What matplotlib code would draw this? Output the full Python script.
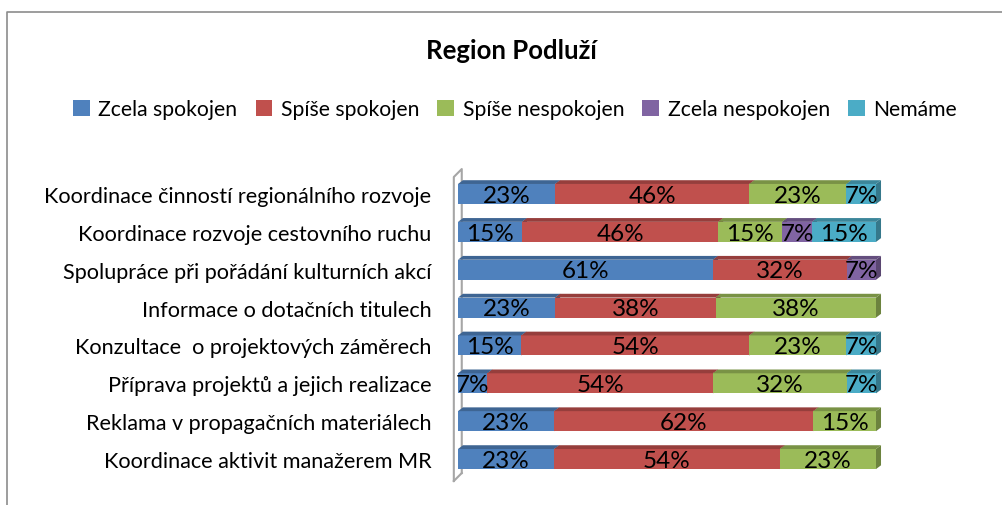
import numpy as np
import matplotlib
matplotlib.use("Agg")
import matplotlib.pyplot as plt
from matplotlib.patches import Polygon, Patch
from matplotlib.lines import Line2D

plt.rcParams['font.family'] = ['Lato', 'DejaVu Sans']

# ---------------- data ----------------
categories = [
    "Koordinace činností regionálního rozvoje",
    "Koordinace rozvoje cestovního ruchu",
    "Spolupráce při pořádání kulturních akcí",
    "Informace o dotačních titulech",
    "Konzultace  o projektových záměrech",
    "Příprava projektů a jejich realizace",
    "Reklama v propagačních materiálech",
    "Koordinace aktivit manažerem MR",
]
series_names = ["Zcela spokojen", "Spíše spokojen", "Spíše nespokojen",
                "Zcela nespokojen", "Nemáme"]
zcela_spokojen = [23, 15, 61, 23, 15, 7, 23, 23]
spise_spokojen = [46, 46, 32, 38, 54, 54, 62, 54]
spise_nespokojen = [23, 15, 0, 38, 23, 32, 15, 23]
zcela_nespokojen = [0, 7, 7, 0, 0, 0, 0, 0]
nemame = [7, 15, 0, 0, 7, 7, 0, 0]

colors = ["#4F81BD", "#C0504D", "#9BBB59", "#8064A2", "#4BACC6"]

# ---------------- figure ----------------
fig = plt.figure(figsize=(10.03, 5.06), dpi=100)

# chart area border (only left + top visible)
fig.add_artist(Line2D([7 / 1003, 7 / 1003, 1.0], [0, 1 - 13 / 506, 1 - 13 / 506],
                      transform=fig.transFigure, color="#8c8c8c", lw=1.2))

fig.text(511 / 1003, 1 - 51 / 506, "Region Podluží", ha="center", va="center",
         fontsize=18.5, fontweight="bold")

ax = fig.add_axes([458 / 1003, 0.0534, 418 / 1003, 0.5986])

data = np.array([zcela_spokojen, spise_spokojen, spise_nespokojen,
                 zcela_nespokojen, nemame], dtype=float)
labels = data.copy()
# 100% stacked
data = data / data.sum(axis=0) * 100

y = np.arange(len(categories))
h = 0.53
dx = 1.2
dy = 0.1


def darker(c, f):
    rgb = np.array(matplotlib.colors.to_rgb(c))
    return tuple(rgb * f)


# wall
wall_c = "#a6a6a6"
ax.plot([-1.0, -1.0, 0.9, 0.9], [7.58, -0.45, -0.66, 7.37], color=wall_c, lw=1.5, clip_on=False, zorder=0)
ax.plot([-1.0, 0.9], [7.58, 7.37], color=wall_c, lw=1.5, clip_on=False, zorder=0)

left = np.zeros(len(categories))
for s in range(len(series_names)):
    w = data[s]
    ax.barh(y, w, left=left, height=h, color=colors[s], edgecolor="none", zorder=2)
    for i in range(len(categories)):
        if w[i] <= 0:
            continue
        l = left[i]
        r = l + w[i]
        top = y[i] - h / 2
        bot = y[i] + h / 2
        ax.add_patch(Polygon([(l, top), (l + dx, top - dy), (r + dx, top - dy), (r, top)],
                             closed=True, facecolor=darker(colors[s], 0.78),
                             edgecolor="none", zorder=2, clip_on=False))
        ax.add_patch(Polygon([(r, top), (r + dx, top - dy), (r + dx, bot - dy), (r, bot)],
                             closed=True, facecolor=darker(colors[s], 0.7),
                             edgecolor="none", zorder=1.9, clip_on=False))
        ax.text(l + w[i] / 2, y[i] + 0.03, "%d%%" % labels[s][i], ha="center", va="center",
                fontsize=17.5, color="black", zorder=5, clip_on=False)
    left = left + w

ax.set_xlim(0, 100)
ax.set_ylim(len(categories) - 0.5, -0.5)
ax.set_yticks(y)
ax.set_yticklabels(categories, fontsize=15.6)
ax.tick_params(axis="y", length=0, pad=19)
ax.set_xticks([])
for sp in ax.spines.values():
    sp.set_visible(False)
ax.patch.set_visible(False)

handles = [Patch(facecolor=c, edgecolor="none") for c in colors]
fig.legend(handles, series_names, loc="center", bbox_to_anchor=(515 / 1003, 1 - 110 / 506),
           ncol=5, frameon=False, fontsize=15.2, handlelength=0.8, handleheight=0.8,
           handletextpad=0.4, columnspacing=0.85)

fig.savefig("out.png", dpi=100)
